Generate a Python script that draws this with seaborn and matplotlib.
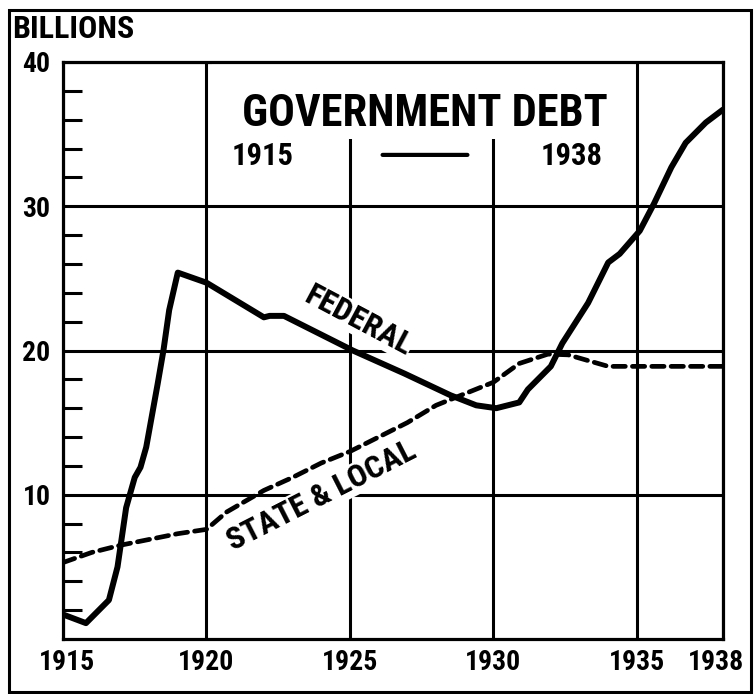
import matplotlib
matplotlib.use("Agg")
import matplotlib.pyplot as plt
import matplotlib.transforms as mtransforms
import seaborn as sns
import pandas as pd
from matplotlib.patches import Rectangle

# ---------------- data ----------------
fed_years = [1915.0, 1915.8, 1916.6, 1916.9, 1917.2, 1917.5, 1917.7, 1917.9, 1918.3,
             1918.5, 1918.7, 1919.0, 1920.0, 1922.0, 1922.2, 1922.7, 1925.1, 1926.9,
             1928.5, 1929.4, 1930.1, 1930.9, 1931.2, 1932.0, 1932.4, 1933.3, 1934.0,
             1934.4, 1935.1, 1935.6, 1936.2, 1936.7, 1937.4, 1938.0]
fed_vals = [1.7, 1.1, 2.7, 5.0, 9.1, 11.2, 11.9, 13.3, 17.7,
            20.0, 22.8, 25.4, 24.7, 22.3, 22.4, 22.4, 20.0, 18.4,
            16.9, 16.2, 16.0, 16.4, 17.3, 18.9, 20.5, 23.3, 26.1,
            26.7, 28.3, 30.2, 32.7, 34.4, 35.8, 36.7]

state_years = [1915, 1916, 1917, 1918, 1919, 1920, 1920.7, 1922, 1923, 1924, 1925,
               1926, 1927, 1928, 1929, 1930, 1930.9, 1931.9, 1932.6, 1933.3, 1934,
               1935, 1936, 1937, 1938]
state_vals = [5.3, 6.0, 6.5, 6.9, 7.3, 7.6, 8.8, 10.3, 11.2, 12.2, 13.0,
              14.0, 15.0, 16.2, 17.0, 17.8, 19.1, 19.75, 19.7, 19.3, 18.9,
              18.9, 18.9, 18.9, 18.9]

x_tick_years = [1915, 1920, 1925, 1930, 1935, 1938]
x_tick_labels = ["1915", "1920", "1925", "1930", "1935", "1938"]
y_major = [10, 20, 30, 40]
y_major_labels = ["10", "20", "30", "40"]
y_minor = [2, 4, 6, 8, 12, 14, 16, 18, 22, 24, 26, 28, 32, 34, 36, 38]

title_text = "GOVERNMENT DEBT"
sub_left = "1915"
sub_right = "1938"
unit_label = "BILLIONS"
fed_label = "FEDERAL"
state_label = "STATE & LOCAL"

fed_df = pd.DataFrame({"year": fed_years, "debt": fed_vals})
state_df = pd.DataFrame({"year": state_years, "debt": state_vals})

# ---------------- style ----------------
sns.set_style("white")
plt.rcParams["font.family"] = ["Roboto Condensed", "Roboto", "DejaVu Sans"]
plt.rcParams["font.weight"] = "bold"
plt.rcParams["font.stretch"] = "condensed"
for k in ["text.color", "axes.labelcolor", "xtick.color", "ytick.color",
          "xtick.labelcolor", "ytick.labelcolor", "axes.edgecolor"]:
    plt.rcParams[k] = "black"

fig = plt.figure(figsize=(7.55, 6.94), dpi=100)
fig.patch.set_facecolor("white")
ax = fig.add_axes([63 / 755, 55 / 694, 660 / 755, 577 / 694])
ax.set_facecolor("white")

sns.lineplot(data=fed_df, x="year", y="debt", ax=ax, color="black",
             linewidth=4.3, zorder=3, solid_capstyle="round", solid_joinstyle="round")
sns.lineplot(data=state_df, x="year", y="debt", ax=ax, color="black",
             linewidth=3.4, zorder=3, linestyle=(0, (2.6, 1.5)),
             dash_capstyle="round")

ax.set_xlim(1915, 1938)
ax.set_ylim(0, 40)
ax.set_xticks(x_tick_years)
ax.set_xticklabels(x_tick_labels)
ax.set_yticks(y_major)
ax.set_yticklabels(y_major_labels)
ax.set_yticks(y_minor, minor=True)
ax.set_xlabel("")
ax.set_ylabel("")

ax.set_axisbelow(True)
ax.grid(True, which="major", color="black", linewidth=2.2)
ax.tick_params(axis="both", which="major", length=0, labelsize=20, colors="black")
ax.tick_params(axis="x", which="major", pad=7)
ax.tick_params(axis="y", which="major", pad=9)
ax.tick_params(axis="y", which="minor", direction="in", length=14, width=2.2,
               left=True, color="black")
for s in ax.spines.values():
    s.set_visible(True)
    s.set_color("black")
    s.set_linewidth(2.3)

# nudge the first and last x labels like the hand-lettered original
xlabels = ax.get_xticklabels()
xlabels[0].set_transform(xlabels[0].get_transform() +
                         mtransforms.ScaledTranslation(4 / 100, 0, fig.dpi_scale_trans))
xlabels[-1].set_transform(xlabels[-1].get_transform() +
                          mtransforms.ScaledTranslation(-7 / 100, 0, fig.dpi_scale_trans))

# white panel behind title
ax.add_patch(Rectangle((0.226, 0.867), 0.639, 0.133, transform=ax.transAxes,
                       facecolor="white", edgecolor="none", zorder=1))
ax.text(0.548, 0.91, title_text, transform=ax.transAxes, ha="center", va="center",
        fontsize=32, fontweight="bold", zorder=2)
ax.text(0.303, 0.837, sub_left, transform=ax.transAxes, ha="center", va="center",
        fontsize=22, fontweight="bold", zorder=2)
ax.text(0.770, 0.837, sub_right, transform=ax.transAxes, ha="center", va="center",
        fontsize=22, fontweight="bold", zorder=2)
ax.annotate("", xy=(0.617, 0.839), xytext=(0.480, 0.839), xycoords="axes fraction",
            arrowprops=dict(arrowstyle="-", lw=3, color="black"))

# series labels
ax.text(1925.3, 22.1, fed_label, rotation=-28, rotation_mode="anchor",
        ha="center", va="center", fontsize=23, fontweight="bold", zorder=2,
        bbox=dict(facecolor="white", edgecolor="none", pad=0.5))
ax.text(1924.0, 9.9, state_label, rotation=27, rotation_mode="anchor",
        ha="center", va="center", fontsize=23, fontweight="bold", zorder=2,
        bbox=dict(facecolor="white", edgecolor="none", pad=0.5))

fig.text(12 / 755, (694 - 29) / 694, unit_label, ha="left", va="center",
         fontsize=23, fontweight="bold")

# outer frame
fig.add_artist(Rectangle((9 / 755, 2 / 694), 742 / 755, 682 / 694,
                         transform=fig.transFigure, fill=False,
                         edgecolor="black", linewidth=2.2))

fig.savefig("out.png", dpi=100, facecolor="white")
